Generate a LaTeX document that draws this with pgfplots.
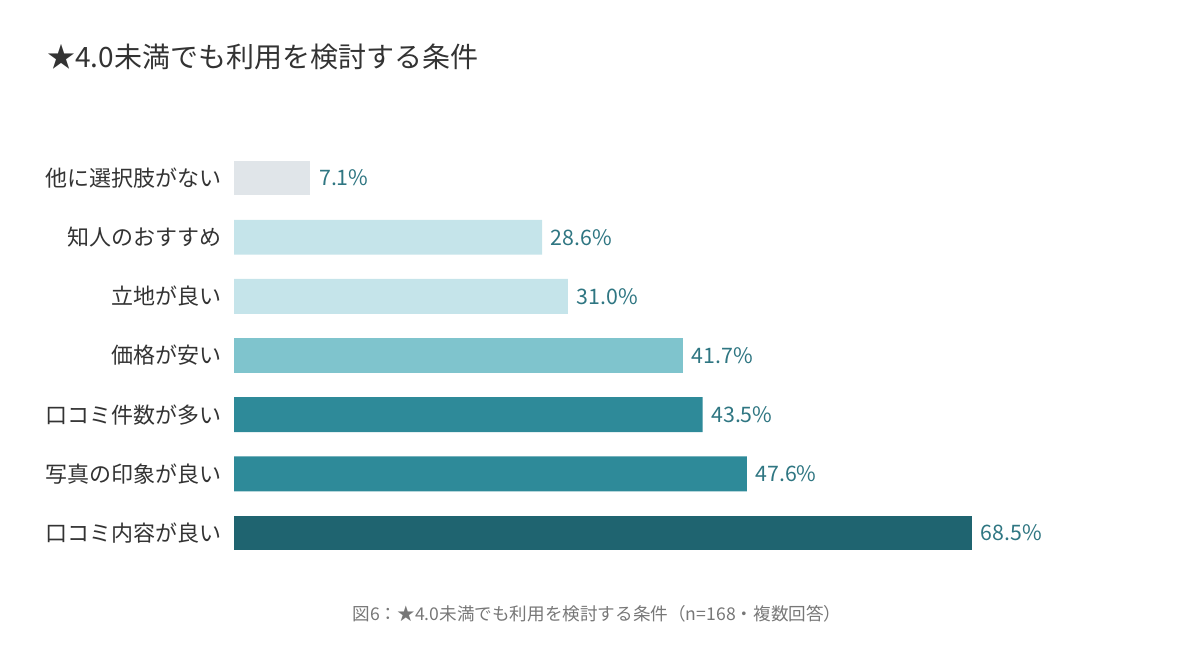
\documentclass[border=0pt]{standalone}
\usepackage{pgfplots}
\pgfplotsset{compat=1.18}
\usepackage{fontspec}
\setmainfont{Noto Sans CJK JP}
\definecolor{cgray}{HTML}{E0E5E9}
\definecolor{clight}{HTML}{C5E4EA}
\definecolor{cmid}{HTML}{7FC4CD}
\definecolor{cteal}{HTML}{2E8A99}
\definecolor{cdark}{HTML}{1F6470}
\definecolor{clabel}{HTML}{2F7682}
\definecolor{ctext}{HTML}{333333}
\definecolor{ccap}{HTML}{777777}
\begin{document}
\begin{tikzpicture}
\path[use as bounding box] (0,0) rectangle (900pt,500.25pt);
\node[anchor=west,text=ctext,font=\fontsize{21}{24}\selectfont,inner sep=0pt] at (35.25pt,457.5pt) {★4.0未満でも利用を検討する条件};
\node[anchor=center,text=ccap,font=\fontsize{13.2}{16}\selectfont,inner sep=0pt] at (447.75pt,39.75pt) {図6：★4.0未満でも利用を検討する条件（n=168・複数回答）};
\begin{axis}[
  at={(175.5pt,78.3pt)}, anchor=south west,
  scale only axis, width=646.4pt, height=310.6pt,
  xmin=0, xmax=80, ymin=-0.5, ymax=6.5,
  axis lines=none,
  xbar, bar width=0.59, bar shift=0pt,
  ytick={0,1,2,3,4,5,6},
  yticklabels={口コミ内容が良い,写真の印象が良い,口コミ件数が多い,価格が安い,立地が良い,知人のおすすめ,他に選択肢がない},
  clip=false,
  nodes near coords={\pgfmathprintnumber[assume math mode=true,fixed,fixed zerofill,precision=1]{\pgfplotspointmeta}\%},
  every node near coord/.append style={anchor=west,xshift=3pt,text=clabel,font=\fontsize{16}{18}\selectfont},
]
\addplot[draw=none,fill=cdark] coordinates {(68.5,0)};
\addplot[draw=none,fill=cteal] coordinates {(47.6,1) (43.5,2)};
\addplot[draw=none,fill=cmid] coordinates {(41.7,3)};
\addplot[draw=none,fill=clight] coordinates {(31.0,4) (28.6,5)};
\addplot[draw=none,fill=cgray] coordinates {(7.1,6)};
\end{axis}
\begin{scope}
\foreach \lab [count=\i from 0] in {口コミ内容が良い,写真の印象が良い,口コミ件数が多い,価格が安い,立地が良い,知人のおすすめ,他に選択肢がない}
  \node[anchor=east,text=ctext,font=\fontsize{16.5}{19}\selectfont,inner sep=0pt] at (166.5pt,{78.3pt+(\i+0.5)*44.37pt}) {\lab};
\end{scope}
\end{tikzpicture}
\end{document}
